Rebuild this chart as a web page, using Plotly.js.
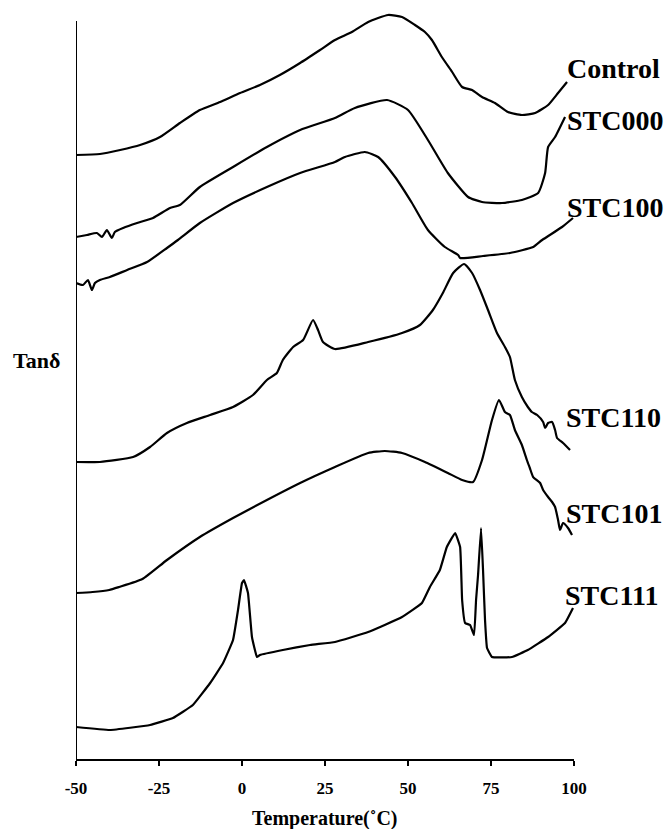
<!DOCTYPE html>
<html>
<head>
<meta charset="utf-8">
<script src="https://cdn.plot.ly/plotly-3.0.1.min.js"></script>
<style>html,body{margin:0;padding:0;background:#fff;}#chart{width:670px;height:829px;}</style>
</head>
<body>
<div id="chart"></div>
<script>
// Temperature (°C) and offset Tanδ values (arbitrary units, curves stacked)
var controlT = [-50,-42.8,-36.7,-30.7,-24.7,-18.7,-12.7,-6.6,-0.6,5.4,11.4,17.5,23.5,28,33.1,38,44,48.2,52.1,55.1,57.2,60.2,63.3,66.3,69.3,72.3,76.2,80.1,84.3,88.3,92.2,95.2,97.9];
var controlV = [6.04,6.05,6.09,6.14,6.22,6.36,6.49,6.57,6.66,6.74,6.84,6.96,7.09,7.19,7.27,7.37,7.44,7.42,7.34,7.27,7.19,7.02,6.87,6.72,6.69,6.62,6.56,6.47,6.44,6.46,6.54,6.66,6.77];

var stc000T = [-50,-46.7,-43.7,-42.2,-40.7,-39.2,-38.3,-35.8,-31.6,-26.8,-21.7,-18.7,-12.7,-2.7,7.5,17.5,28,34,43.7,50,56,62,68.1,72.3,78.3,84.3,89.2,91.3,92.2,94.3,97.3];
var stc000V = [5.22,5.24,5.26,5.22,5.29,5.21,5.27,5.31,5.36,5.41,5.51,5.54,5.72,5.92,6.12,6.29,6.41,6.51,6.59,6.49,6.19,5.86,5.62,5.57,5.56,5.59,5.66,5.86,6.12,6.22,6.42];

var stc100T = [-50,-47.9,-46.4,-45.2,-44.3,-42.8,-39.8,-34.6,-28.6,-22.6,-19.3,-12.7,-2.7,7.5,17.5,28,31,37,41,46.1,51.2,56,61.1,65.1,65.7,72.6,80.7,87.7,90.4,96.4,99.7];
var stc100V = [4.76,4.74,4.79,4.69,4.76,4.79,4.82,4.89,4.97,5.11,5.19,5.36,5.56,5.72,5.86,5.97,6.02,6.07,6.02,5.82,5.56,5.29,5.12,5.04,5.01,5.03,5.06,5.12,5.19,5.32,5.41];

var stc110T = [-50,-42.8,-32.8,-27.7,-22.6,-16.6,-9.6,-2.7,3.3,7.5,10.5,12.3,15.4,18.4,21.4,22.9,24.4,28,38,48.2,53.6,57.5,60.5,63.6,66.9,69.3,71.7,74.1,76.8,79.2,80.7,82.2,84.3,86.1,87.3,88.9,90.7,91.3,92.2,93.4,94.3,94.9,96.7,98.8];
var stc110V = [2.97,2.97,3.02,3.12,3.26,3.36,3.44,3.52,3.64,3.79,3.86,3.99,4.12,4.19,4.39,4.29,4.17,4.10,4.17,4.26,4.34,4.49,4.66,4.86,4.95,4.86,4.69,4.49,4.26,4.12,4.02,3.79,3.62,3.52,3.47,3.44,3.37,3.31,3.36,3.37,3.29,3.21,3.16,3.09];

var stc101T = [-50,-45,-40,-37,-30,-22.6,-12.7,-2.7,7.5,17.5,28,38,43,48.2,55.1,62,66.3,69.6,72.3,75.3,77.4,79.2,80.7,82.2,84.3,85.8,86.7,87.7,89.8,90.7,92.2,93.4,94.3,95.2,95.8,96.7,98.2,99.4];
var stc101V = [1.66,1.67,1.69,1.72,1.80,1.99,2.22,2.41,2.59,2.76,2.92,3.06,3.08,3.06,2.97,2.86,2.79,2.77,2.99,3.39,3.59,3.47,3.44,3.29,3.14,2.99,2.91,2.82,2.76,2.69,2.62,2.57,2.52,2.39,2.29,2.36,2.31,2.24];

var stc111T = [-50,-39.8,-27.7,-20.8,-14.8,-9.6,-5.7,-2.7,-1.2,0,0.6,1.8,3,4.5,5.4,12.3,20.5,28,38,48.2,54.2,56.6,59.6,61.7,64.2,65.7,66.3,67.2,68.7,69.9,70.5,71.1,72,72.6,73.2,73.8,75.3,81.3,86.1,92.2,97.3,99.7];
var stc111V = [0.32,0.29,0.34,0.41,0.54,0.76,0.96,1.19,1.49,1.76,1.79,1.66,1.22,1.02,1.04,1.09,1.14,1.17,1.27,1.42,1.56,1.72,1.89,2.12,2.26,2.12,1.59,1.36,1.34,1.24,1.59,1.84,2.31,1.89,1.39,1.11,1.02,1.02,1.09,1.22,1.36,1.51];

var seriesNames = ['Control','STC000','STC100','STC110','STC101','STC111'];
var seriesT = [controlT, stc000T, stc100T, stc110T, stc101T, stc111T];
var seriesV = [controlV, stc000V, stc100V, stc110V, stc101V, stc111V];
var labelPos = [[97.2,6.91],[97.2,6.39],[97.2,5.52],[97.0,3.42],[97.0,2.46],[96.7,1.64]];

var xTicks = [-50,-25,0,25,50,75,100];
var xTitle = 'Temperature(˚C)';
var yTitle = 'Tanδ';

var serif = 'Liberation Serif, Times New Roman, serif';

var traces = seriesNames.map(function(n, i){
  var spiky = (n === 'STC111');
  return {x: seriesT[i], y: seriesV[i], mode: 'lines', name: n,
          line: {color: '#000', width: 2.2, shape: 'spline', smoothing: spiky ? 0.3 : 0.5},
          hoverinfo: 'skip'};
});

var annotations = seriesNames.map(function(n, i){
  return {x: labelPos[i][0], y: labelPos[i][1], xref: 'x', yref: 'y', text: n,
          showarrow: false, xanchor: 'left', yanchor: 'middle',
          font: {family: serif, size: 28, color: '#000', weight: 'bold'}};
});
annotations.push({x: 0.5, y: -0.0786, xref: 'paper', yref: 'paper', text: xTitle,
  showarrow: false, xanchor: 'center', yanchor: 'middle',
  font: {family: serif, size: 20, color: '#000', weight: 'bold'}});
annotations.push({x: -0.08, y: 0.531, xref: 'paper', yref: 'paper', text: yTitle,
  showarrow: false, xanchor: 'center', yanchor: 'middle',
  font: {family: serif, size: 22, color: '#000', weight: 'bold'}});

var layout = {
  width: 670, height: 829,
  margin: {l: 76, r: 96, t: 8, b: 70},
  paper_bgcolor: '#fff', plot_bgcolor: '#fff',
  showlegend: false,
  xaxis: {range: [-50, 100], tickvals: xTicks, ticktext: xTicks.map(String),
          showgrid: false, zeroline: false, showline: true, linecolor: '#000', linewidth: 2,
          ticks: 'outside', ticklen: 5, tickwidth: 2, tickcolor: '#000',
          ticklabelstandoff: 8,
          tickfont: {family: serif, size: 17, color: '#000', weight: 'bold'}},
  yaxis: {range: [0, 7.51], showgrid: false, zeroline: false, showline: false,
          showticklabels: false, ticks: ''},
  shapes: [{type: 'line', xref: 'x', yref: 'y', x0: -50, x1: -50, y0: 0, y1: 7.38,
            line: {color: '#000', width: 2}}],
  annotations: annotations
};

Plotly.newPlot('chart', traces, layout, {displayModeBar: false, staticPlot: true});
</script>
</body>
</html>
